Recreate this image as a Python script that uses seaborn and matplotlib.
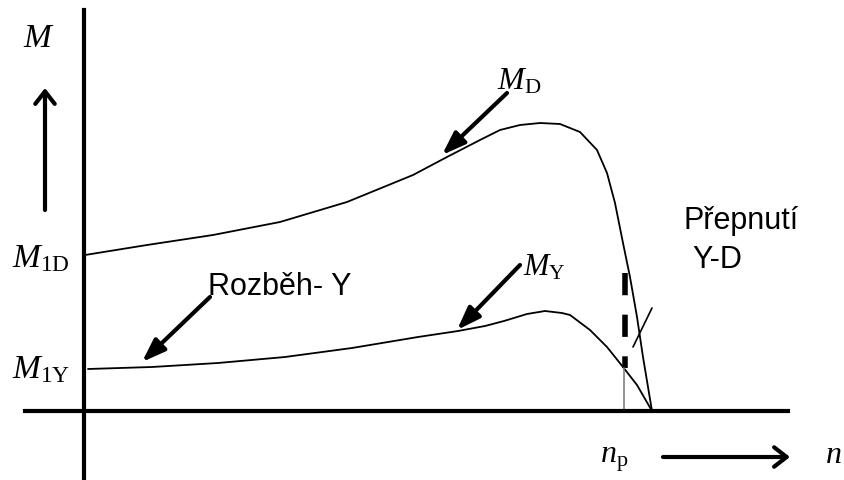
import numpy as np
import pandas as pd
import seaborn as sns
import matplotlib.pyplot as plt

# Momentova charakteristika - rozbeh hvezda/trojuhelnik
# n = otacky, M = moment (jednotky)
n_D = [1, 63, 129, 196, 263, 329, 363, 396, 416, 436, 456, 476, 496, 513, 523, 531, 539, 546, 553, 559, 568]
M_D = [156, 166, 176, 189, 209, 236, 254, 271, 281, 286, 288, 287, 279, 261, 238, 208, 168, 134, 94, 54, 0]

n_Y = [4, 68, 134, 201, 268, 334, 374, 401, 420, 443, 461, 478, 486, 506, 523, 539, 553, 568]
M_Y = [42, 44, 48, 54, 63, 74, 80, 85, 90, 97, 100, 98, 96, 81, 64, 44, 26, 0]

n_p = 541          # otacky prepnuti
M_p_top = 138      # horni konec carkovane cary
M_p_Y = 43         # moment M_Y v bode prepnuti

sns.set_theme(style='white')
plt.rcParams['mathtext.fontset'] = 'custom'
plt.rcParams['mathtext.rm'] = 'Liberation Serif'
plt.rcParams['mathtext.it'] = 'Liberation Serif:italic'
plt.rcParams['text.color'] = 'black'

fig = plt.figure(figsize=(8.44, 4.8), dpi=100)
ax = fig.add_axes([0, 0, 1, 1])
ax.set_xlim(-84, 760)
ax.set_ylim(-69, 411)

df_D = pd.DataFrame({'n': n_D, 'M': M_D})
df_Y = pd.DataFrame({'n': n_Y, 'M': M_Y})
sns.lineplot(data=df_D, x='n', y='M', sort=False, estimator=None, color='black', lw=1.3, ax=ax)
sns.lineplot(data=df_Y, x='n', y='M', sort=False, estimator=None, color='black', lw=1.3, ax=ax)

# prepnuti Y-D
ax.plot([n_p, n_p], [M_p_top, M_p_Y], color='black', lw=4, dashes=(4, 3.5), solid_capstyle='butt')
ax.plot([n_p - 1, n_p - 1], [M_p_Y, 0], color='gray', lw=1.2)
ax.plot([n_p + 8, n_p + 27], [64, 103], color='black', lw=1.2)

# osy
for s in ['top', 'right']:
    ax.spines[s].set_visible(False)
ax.spines['left'].set_position(('data', 0))
ax.spines['bottom'].set_position(('data', 0))
ax.spines['left'].set_bounds(-69, 401)
ax.spines['bottom'].set_bounds(-59, 704)
for s in ['left', 'bottom']:
    ax.spines[s].set_linewidth(3)
    ax.spines[s].set_color('black')
ax.set_xticks([])
ax.set_yticks([])
ax.set_xlabel('')
ax.set_ylabel('')

# sipky
diag = dict(arrowstyle='-|>,head_length=0.7,head_width=0.25', lw=3, color='black',
            mutation_scale=20, shrinkA=0, shrinkB=0)
ax.annotate('', xy=(358, 256), xytext=(423, 318), arrowprops=diag)
ax.annotate('', xy=(373, 81), xytext=(436, 146), arrowprops=diag)
ax.annotate('', xy=(58, 49), xytext=(126, 114), arrowprops=diag)

axarrow = dict(arrowstyle='->,head_length=0.45,head_width=0.35', lw=3, color='black',
               mutation_scale=20, shrinkA=0, shrinkB=0)
ax.annotate('', xy=(-39, 323), xytext=(-39, 201), arrowprops=axarrow)
ax.annotate('', xy=(706, -46), xytext=(579, -46), arrowprops=axarrow)

# popisky
ax.text(-45, 364, r'$M$', fontsize=24, ha='center', va='baseline')
ax.text(-14, 144, r'$M_{\mathrm{1D}}$', fontsize=24, ha='right', va='baseline')
ax.text(-14, 33, r'$M_{\mathrm{1Y}}$', fontsize=24, ha='right', va='baseline')
ax.text(413, 321, r'$M_{\mathrm{D}}$', fontsize=23, ha='left', va='baseline')
ax.text(439, 136, r'$M_{\mathrm{Y}}$', fontsize=22, ha='left', va='baseline')
ax.text(516, -52, r'$n_{\mathrm{p}}$', fontsize=23, ha='left', va='baseline')
ax.text(741, -52, r'$n$', fontsize=23, ha='left', va='baseline')

sans = ['Liberation Sans', 'DejaVu Sans']
ax.text(124, 116, 'Rozběh- Y', fontsize=22, family=sans, ha='left', va='baseline')
ax.text(599, 182, 'Přepnutí', fontsize=22, family=sans, ha='left', va='baseline')
ax.text(608, 143, 'Y-D', fontsize=22, family=sans, ha='left', va='baseline')

plt.savefig('out.png', dpi=100)
